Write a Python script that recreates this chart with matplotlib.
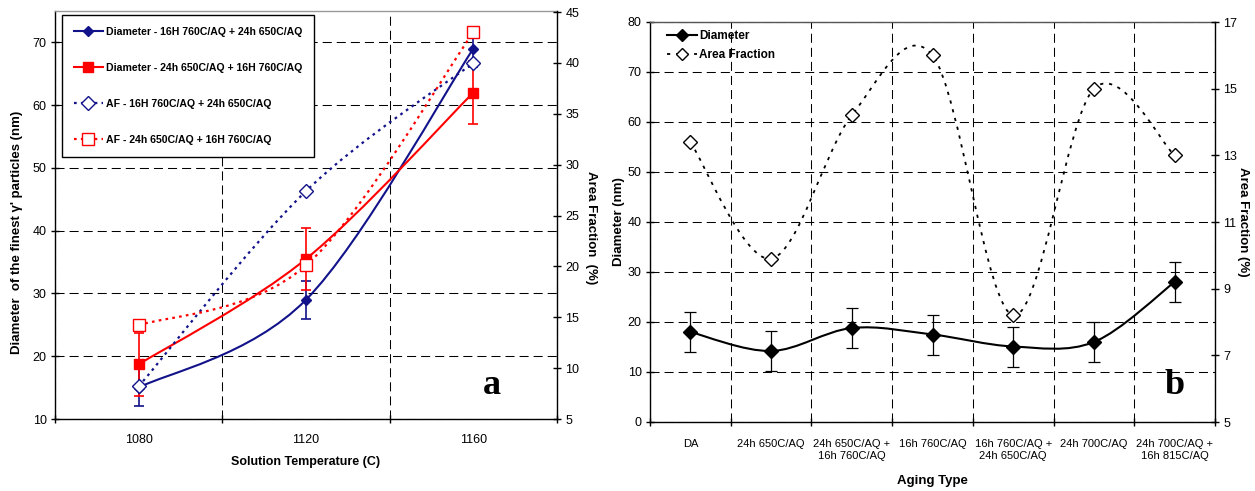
import matplotlib
matplotlib.use('Agg')
import matplotlib.pyplot as plt
from matplotlib.path import Path
from matplotlib.patches import PathPatch
from matplotlib.lines import Line2D
import numpy as np

# ---------------- data: panel a ----------------
temps = ['1080', '1120', '1160']
dia_16h_24h = [15.0, 29.0, 69.0]
dia_16h_24h_err = [3.0, 3.0, 3.0]
dia_24h_16h = [18.7, 35.5, 62.0]
dia_24h_16h_err = [5.0, 5.0, 5.0]
af_16h_24h = [8.2, 27.4, 40.0]
af_24h_16h = [14.2, 20.1, 43.0]

# ---------------- data: panel b ----------------
aging_types = ['DA', '24h 650C/AQ', '24h 650C/AQ +\n16h 760C/AQ', '16h 760C/AQ',
               '16h 760C/AQ +\n24h 650C/AQ', '24h 700C/AQ', '24h 700C/AQ +\n16h 815C/AQ']
diam_b = [18.0, 14.2, 18.8, 17.5, 15.1, 16.0, 28.0]
diam_b_err = [4.0, 4.0, 4.0, 4.0, 4.0, 4.0, 4.0]
af_b = [13.4, 9.9, 14.2, 16.0, 8.2, 15.0, 13.0]

FAM = ['Liberation Sans', 'DejaVu Sans']
plt.rcParams['font.family'] = FAM
plt.rcParams['axes.linewidth'] = 1.0

NAVY = '#12128a'
RED = '#ff0000'


def smooth(ax, x, y, zorder=2, **kw):
    """Excel-like smoothed line (Catmull-Rom Bezier) through the data points."""
    P = np.column_stack([np.asarray(x, float), np.asarray(y, float)])
    n = len(P)
    verts = [P[0]]
    codes = [Path.MOVETO]
    for i in range(n - 1):
        p0 = P[i - 1] if i > 0 else P[i]
        p3 = P[i + 2] if i + 2 < n else P[i + 1]
        c1 = P[i] + (P[i + 1] - p0) / 6.0
        c2 = P[i + 1] - (p3 - P[i]) / 6.0
        verts += [c1, c2, P[i + 1]]
        codes += [Path.CURVE4] * 3
    patch = PathPatch(Path(verts, codes), fill=False, zorder=zorder,
                      capstyle='butt', joinstyle='round', **kw)
    ax.add_patch(patch)


W, H = 1255, 491
fig = plt.figure(figsize=(W / 100, H / 100), dpi=100)

GRID = dict(color='black', lw=0.75, ls=(0, (8.7, 4.8)))

# ======================= panel a =======================
L, R, T, B = 55, 557, 11, 419
ax1 = fig.add_axes([L / W, (H - B) / H, (R - L) / W, (B - T) / H])
xa = np.arange(len(temps))
ax1.set_xlim(-0.5, len(temps) - 0.5)
ax1.set_ylim(10, 75)
ax1.set_xticks(xa)
ax1.set_xticklabels(temps, fontsize=9)
ax1.set_xticks(np.arange(-0.5, len(temps)), minor=True)
ax1.tick_params(axis='x', which='major', length=0, pad=11)
ax1.tick_params(axis='x', which='minor', length=6, direction='inout', width=1)
ax1.set_yticks(np.arange(10, 71, 10))
ax1.tick_params(axis='y', which='major', length=6, direction='inout', labelsize=9, pad=3, width=1)
ax1.xaxis.grid(True, which='minor', **GRID)
ax1.yaxis.grid(True, which='major', **GRID)
ax1.set_axisbelow(True)
ax1.spines['top'].set_color('#999999')
ax1.spines['right'].set_visible(False)

smooth(ax1, xa, dia_16h_24h, edgecolor=NAVY, lw=1.5, zorder=3)
smooth(ax1, xa, dia_24h_16h, edgecolor=RED, lw=1.5, zorder=3)
ax1.errorbar(xa, dia_16h_24h, yerr=dia_16h_24h_err, fmt='D', ms=5, color=NAVY,
             ecolor=NAVY, elinewidth=1.2, capsize=3.5, capthick=1.2, zorder=4)
ax1.errorbar(xa, dia_24h_16h, yerr=dia_24h_16h_err, fmt='s', ms=7, color=RED,
             ecolor=RED, elinewidth=1.2, capsize=3.5, capthick=1.2, zorder=4)

ax1r = ax1.twinx()
ax1r.set_ylim(5, 45.1)
ax1r.set_yticks(np.arange(5, 46, 5))
ax1r.tick_params(axis='y', length=6, direction='inout', labelsize=9, pad=3, width=1)
for s in ['top', 'left', 'bottom']:
    ax1r.spines[s].set_visible(False)
smooth(ax1r, xa, af_16h_24h, edgecolor=NAVY, lw=1.6, ls=(0, (1.2, 1.9)), zorder=3)
smooth(ax1r, xa, af_24h_16h, edgecolor=RED, lw=1.6, ls=(0, (1.2, 1.9)), zorder=3)
ax1r.plot(xa, af_16h_24h, ls='none', marker='D', ms=7, mfc='white', mec=NAVY, mew=1.0, zorder=5)
ax1r.plot(xa, af_24h_16h, ls='none', marker='s', ms=8.5, mfc='white', mec=RED, mew=1.0, zorder=5)

h_a = [
    Line2D([], [], color=NAVY, lw=1.5, marker='D', ms=5),
    Line2D([], [], color=RED, lw=1.5, marker='s', ms=7),
    Line2D([], [], color=NAVY, lw=1.6, ls=(0, (1.2, 1.9)), marker='D', ms=7, mfc='white', mec=NAVY),
    Line2D([], [], color=RED, lw=1.6, ls=(0, (1.2, 1.9)), marker='s', ms=8.5, mfc='white', mec=RED),
]
lab_a = ['Diameter - 16H 760C/AQ + 24h 650C/AQ', 'Diameter - 24h 650C/AQ + 16H 760C/AQ',
         'AF - 16H 760C/AQ + 24h 650C/AQ', 'AF - 24h 650C/AQ + 16H 760C/AQ']
leg = ax1r.legend(h_a, lab_a, loc='upper left', bbox_to_anchor=(7 / (R - L), 1 - 4 / (B - T)),
                  borderaxespad=0, frameon=True, fancybox=False, edgecolor='black',
                  prop=dict(family=FAM, weight='bold', size=7.6), labelspacing=2.45,
                  handlelength=2.7, handletextpad=0.3, borderpad=1.15, framealpha=1)
leg.get_frame().set_linewidth(1.0)
leg.set_zorder(10)

fig.text(17 / W, 1 - 232 / H, "Diameter  of the finest γ' particles (nm)",
         rotation=90, ha='center', va='center', fontsize=9.5, weight='bold')
fig.text(591 / W, 1 - 228 / H, 'Area Fraction  (%)',
         rotation=270, ha='center', va='center', fontsize=9.5, weight='bold')
fig.text(306 / W, 1 - 462 / H, 'Solution Temperature (C)', ha='center', va='center',
         fontsize=9, weight='bold')
fig.text(492 / W, 1 - 385 / H, 'a', ha='center', va='center', fontsize=26, weight='bold',
         family='Liberation Serif')

# ======================= panel b =======================
L2, R2, T2, B2 = 650, 1215, 22, 422
ax2 = fig.add_axes([L2 / W, (H - B2) / H, (R2 - L2) / W, (B2 - T2) / H])
xb = np.arange(len(aging_types))
ax2.set_xlim(-0.5, len(aging_types) - 0.5)
ax2.set_ylim(0, 80)
ax2.set_xticks(xb)
ax2.set_xticklabels(aging_types, fontsize=8, linespacing=1.35)
ax2.set_xticks(np.arange(-0.5, len(aging_types)), minor=True)
ax2.tick_params(axis='x', which='major', length=0, pad=12)
ax2.tick_params(axis='x', which='minor', length=6, direction='inout', width=1)
ax2.set_yticks(np.arange(0, 81, 10))
ax2.tick_params(axis='y', which='major', length=6, direction='inout', labelsize=9, pad=3, width=1)
ax2.xaxis.grid(True, which='minor', **GRID)
ax2.yaxis.grid(True, which='major', **GRID)
ax2.set_axisbelow(True)
ax2.spines['top'].set_color('#555555')
ax2.spines['right'].set_visible(False)

smooth(ax2, xb, diam_b, edgecolor='black', lw=1.5, zorder=3)
ax2.errorbar(xb, diam_b, yerr=diam_b_err, fmt='D', ms=7, color='black', ecolor='black',
             elinewidth=0.9, capsize=4, capthick=0.9, zorder=4)

ax2r = ax2.twinx()
ax2r.set_ylim(5, 17)
ax2r.set_yticks(np.arange(5, 18, 2))
ax2r.tick_params(axis='y', length=6, direction='inout', labelsize=9, pad=3, width=1)
for s in ['top', 'left', 'bottom']:
    ax2r.spines[s].set_visible(False)
smooth(ax2r, xb, af_b, edgecolor='black', lw=1.3, ls=(0, (1.8, 3.2)), zorder=3)
ax2r.plot(xb, af_b, ls='none', marker='D', ms=7, mfc='white', mec='black', mew=1.0, zorder=5)

h_b = [Line2D([], [], color='black', lw=1.5, marker='D', ms=6),
       Line2D([], [], color='black', lw=1.3, ls=(0, (1.8, 3.2)), marker='D', ms=6,
              mfc='white', mec='black')]
ax2r.legend(h_b, ['Diameter', 'Area Fraction'], loc='upper left',
            bbox_to_anchor=(17 / (R2 - L2), 1 - 8 / (B2 - T2)), borderaxespad=0, borderpad=0,
            frameon=False, prop=dict(family=FAM, weight='bold', size=8.5),
            labelspacing=0.6, handlelength=2.5, handletextpad=0.25)

fig.text(619 / W, 1 - 222 / H, 'Diameter (nm)', rotation=90, ha='center', va='center',
         fontsize=9.5, weight='bold')
fig.text(1243 / W, 1 - 222 / H, 'Area Fraction (%)', rotation=270, ha='center', va='center',
         fontsize=9.5, weight='bold')
fig.text(932 / W, 1 - 481 / H, 'Aging Type', ha='center', va='center', fontsize=9.5, weight='bold')
fig.text(1175 / W, 1 - 385 / H, 'b', ha='center', va='center', fontsize=26, weight='bold',
         family='Liberation Serif')

fig.savefig('out.png', dpi=100)
